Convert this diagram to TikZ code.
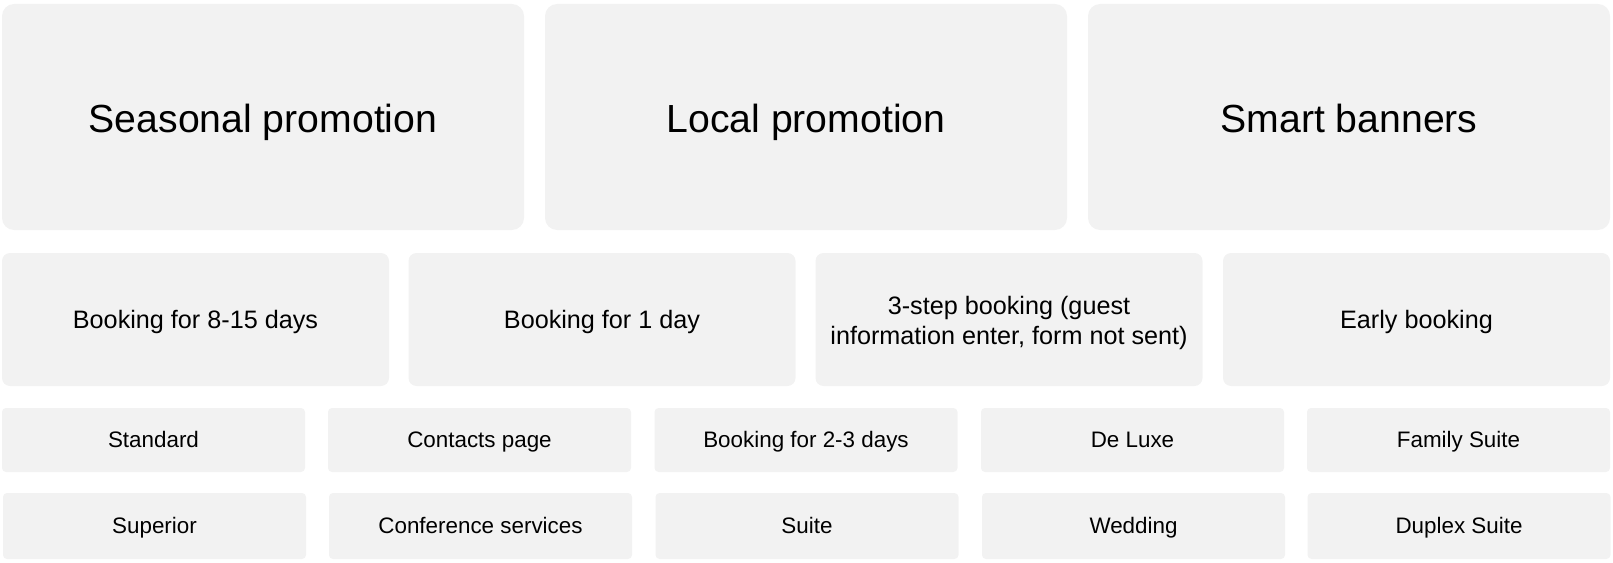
\documentclass[tikz,border=0pt]{standalone}
\usepackage{fontspec}
\setmainfont{Liberation Sans}
\begin{document}
\begin{tikzpicture}[x=0.75pt,y=-0.75pt,
  card/.style={fill=cardgray, draw=none, inner sep=0pt, align=center, text=black},
  big/.style={card, minimum width=522*0.75pt, minimum height=226*0.75pt, rounded corners=9pt, font=\fontsize{29.4pt}{35pt}\selectfont, text height=26.5pt, text depth=3.2pt},
  mid/.style={card, minimum width=387*0.75pt, minimum height=133*0.75pt, rounded corners=6pt, font=\fontsize{18.9pt}{22.6pt}\selectfont, text height=17.2pt, text depth=3.2pt},
  midtext/.style={inner sep=0pt, align=center, text=black, font=\fontsize{18.9pt}{22.6pt}\selectfont},
  small/.style={card, minimum width=303*0.75pt, minimum height=64*0.75pt, rounded corners=3pt, font=\fontsize{16.8pt}{20pt}\selectfont, text height=15.3pt, text depth=3.5pt},
  smallb/.style={small, minimum height=66*0.75pt}]
\definecolor{cardgray}{HTML}{F2F2F2}
\useasboundingbox (0,0) rectangle (1613,563);
\node[big] (s1) at (263,117) {Seasonal promotion};
\node[big] (s2) at (806,117) {Local promotion};
\node[big] (s3) at (1349,117) {Smart banners};
\node[mid] (m1) at (195.5,319.5) {Booking for 8-15 days};
\node[mid] (m2) at (602,319.5) {Booking for 1 day};
\node[mid] (m3) at (1009,319.5) {};
\node[midtext] (m3t) at (1009,323) {3-step booking (guest\\information enter, form not sent)};
\node[mid] (m4) at (1416.5,319.5) {Early booking};
\node[small] (a1) at (153.5,440) {Standard};
\node[small] (a2) at (479.5,440) {Contacts page};
\node[small] (a3) at (806,440) {Booking for 2-3 days};
\node[small] (a4) at (1132.5,440) {De Luxe};
\node[small] (a5) at (1458.5,440) {Family Suite};
\node[smallb] (b1) at (154.5,526) {Superior};
\node[smallb] (b2) at (480.5,526) {Conference services};
\node[smallb] (b3) at (807,526) {Suite};
\node[smallb] (b4) at (1133.5,526) {Wedding};
\node[smallb] (b5) at (1459,526) {Duplex Suite};
\end{tikzpicture}
\end{document}
